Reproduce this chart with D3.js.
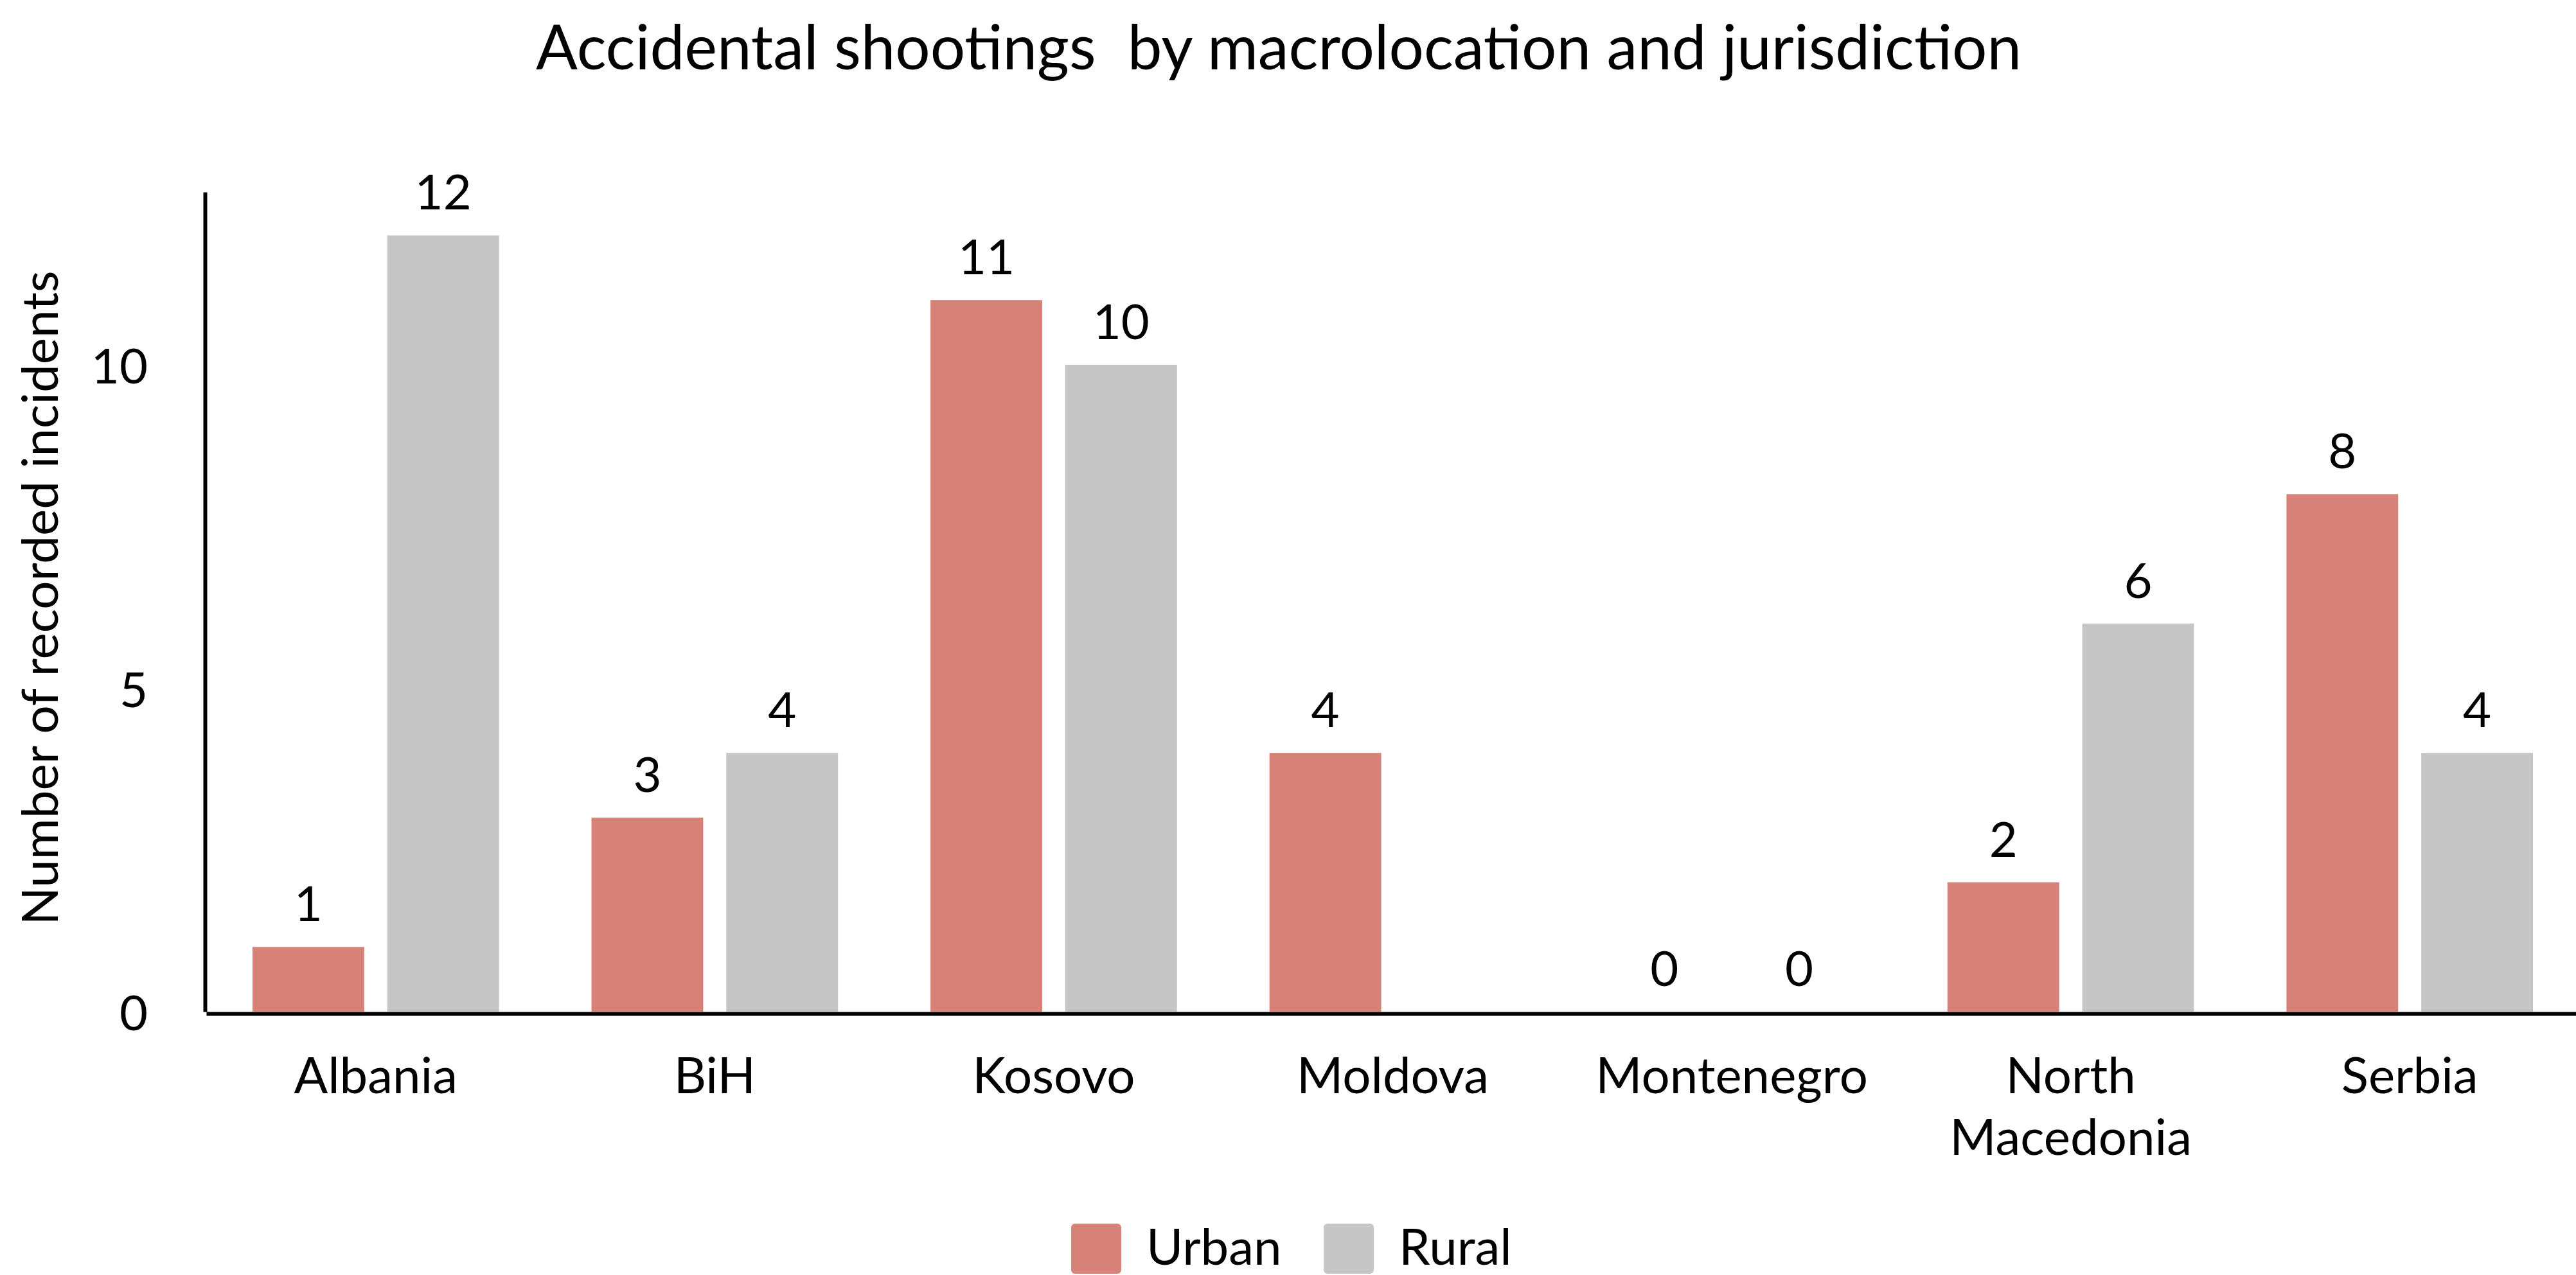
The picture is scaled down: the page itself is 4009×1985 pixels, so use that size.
<!DOCTYPE html>
<html lang="en">
<head>
    <meta charset="utf-8">
    <title>Accidental shootings by macrolocation and jurisdiction</title>
    <style>
        body {
            margin: 0;
            background-color: white;
            font-family: Lato, sans-serif;
        }

        svg text {
            fill: black;
            font-family: Lato, sans-serif;
        }

        .axis path, .axis line {
            fill: none;
            stroke: black;
        }
    </style>
</head>
<body>
<div id="chart"></div>
<script src="https://d3js.org/d3.v7.min.js"></script>
<script>
    var countries = ["Albania", "BiH", "Kosovo", "Moldova", "Montenegro", "North Macedonia", "Serbia"];
    var seriesNames = ["Urban", "Rural"];
    var urban = [1, 3, 11, 4, 0, 2, 8];
    var rural = [12, 4, 10, null, 0, 6, 4];
    var yTicks = [0, 5, 10];
    var colors = ["#d68278", "#c6c6c6"];

    var W = 4009, H = 1985;

    var svg = d3.select("#chart")
        .append("svg")
        .attr("width", W)
        .attr("height", H);

    var x0 = d3.scaleBand()
        .domain(countries)
        .range([321, 4014])
        .padding(0);

    var x1 = d3.scaleBand()
        .domain(seriesNames)
        .range([0, x0.bandwidth()])
        .paddingInner(0.171)
        .paddingOuter(0.343);

    var y = d3.scaleLinear()
        .domain([0, 12.67])
        .range([1575, 299]);

    var color = d3.scaleOrdinal().domain(seriesNames).range(colors);

    // title
    svg.append("text")
        .attr("x", 1990)
        .attr("y", 108)
        .attr("text-anchor", "middle")
        .style("font-size", "96px")
        .style("white-space", "pre")
        .text("Accidental shootings  by macrolocation and jurisdiction");

    // bars
    var rows = countries.map(function(c, i) {
        return { country: c, values: [
            { key: "Urban", value: urban[i] },
            { key: "Rural", value: rural[i] }
        ]};
    });

    var groups = svg.selectAll(".group")
        .data(rows)
        .enter().append("g")
        .attr("class", "group")
        .attr("transform", function(d) { return "translate(" + x0(d.country) + ",0)"; });

    groups.selectAll("rect")
        .data(function(d) { return d.values.filter(function(v) { return v.value != null; }); })
        .enter().append("rect")
        .attr("x", function(d) { return x1(d.key); })
        .attr("y", function(d) { return y(d.value); })
        .attr("width", x1.bandwidth())
        .attr("height", function(d) { return y(0) - y(d.value); })
        .style("fill", function(d) { return color(d.key); });

    groups.selectAll(".label")
        .data(function(d) { return d.values.filter(function(v) { return v.value != null; }); })
        .enter().append("text")
        .attr("class", "label")
        .attr("x", function(d) { return x1(d.key) + x1.bandwidth() / 2; })
        .attr("y", function(d) { return y(d.value) - 40; })
        .attr("text-anchor", "middle")
        .style("font-size", "76px")
        .text(function(d) { return d.value; });

    // y axis
    var yAxis = svg.append("g")
        .attr("class", "axis")
        .attr("transform", "translate(319,0)")
        .call(d3.axisLeft(y).tickValues(yTicks).tickSize(0).tickPadding(89));
    yAxis.select(".domain").attr("stroke-width", 6);
    yAxis.selectAll("text").style("font-size", "76px").attr("dy", "0.38em");

    // x axis
    var xAxis = svg.append("g")
        .attr("class", "axis")
        .attr("transform", "translate(0,1578)")
        .call(d3.axisBottom(x0).tickSize(0).tickFormat(""));
    xAxis.select(".domain").attr("stroke-width", 6);

    svg.selectAll(".xlabel")
        .data(countries)
        .enter().append("text")
        .attr("class", "xlabel")
        .attr("x", function(d) { return x0(d) + x0.bandwidth() / 2; })
        .attr("y", 1702)
        .attr("text-anchor", "middle")
        .style("font-size", "78px")
        .each(function(d) {
            var words = d === "North Macedonia" ? ["North", "Macedonia"] : [d];
            var t = d3.select(this);
            words.forEach(function(w, i) {
                t.append("tspan")
                    .attr("x", x0(d) + x0.bandwidth() / 2)
                    .attr("dy", i === 0 ? 0 : 96)
                    .text(w);
            });
        });

    // y title
    svg.append("text")
        .attr("transform", "translate(90,931) rotate(-90)")
        .attr("text-anchor", "middle")
        .style("font-size", "78px")
        .text("Number of recorded incidents");

    // legend
    var legendX = [1667, 2060];
    var legend = svg.selectAll(".legend")
        .data(seriesNames)
        .enter().append("g")
        .attr("class", "legend")
        .attr("transform", function(d, i) { return "translate(" + legendX[i] + ",1905)"; });

    legend.append("rect")
        .attr("width", 78)
        .attr("height", 78)
        .attr("rx", 6)
        .style("fill", function(d) { return color(d); });

    legend.append("text")
        .attr("x", 117)
        .attr("y", 64)
        .style("font-size", "78px")
        .text(function(d) { return d; });
</script>
</body>
</html>
